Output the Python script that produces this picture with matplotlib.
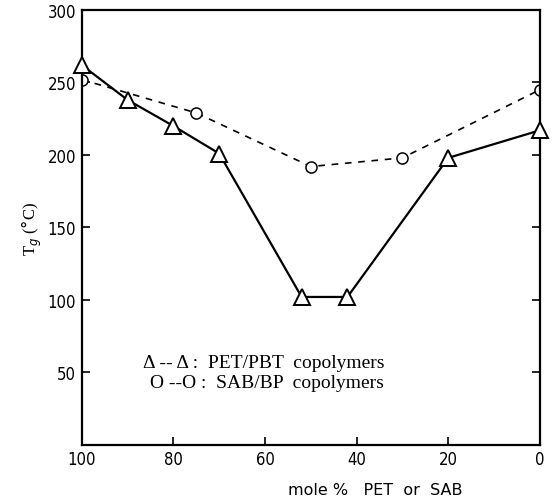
import matplotlib.pyplot as plt

# PET/PBT copolymers (triangles)
x_pet = [100, 90, 80, 70, 52, 42, 20, 0]
y_pet = [262, 238, 220, 201, 102, 102, 198, 217]

# SAB/BP copolymers (circles)
x_sab = [100, 75, 50, 30, 0]
y_sab = [252, 229, 192, 198, 245]

yticks = [50, 100, 150, 200, 250, 300]
xticks = [100, 80, 60, 40, 20, 0]

fig = plt.figure(figsize=(5.56, 5.02), dpi=100)
ax = fig.add_axes([0.147, 0.112, 0.824, 0.866])

ax.plot(x_pet, y_pet, '-', color='black', lw=1.6, marker='^', ms=11,
        mfc='white', mec='black', mew=1.4, zorder=3, clip_on=False)
ax.plot(x_sab, y_sab, '--', color='black', lw=1.2, dashes=(4, 4), marker='o', ms=8,
        mfc='white', mec='black', mew=1.1, zorder=2)

ax.set_xlim(100, 0)
ax.set_ylim(0, 300)
ax.set_xticks(xticks)
ax.set_yticks(yticks)
ax.tick_params(direction='in', length=6, width=1.2, labelsize=12, pad=4)
ax.tick_params(axis='y', right=True)
for lab in ax.get_xticklabels() + ax.get_yticklabels():
    lab.set_family('DejaVu Sans')
    lab.set_stretch('condensed')
for s in ax.spines.values():
    s.set_linewidth(1.6)

ax.set_ylabel(r'T$_g$ ($\degree$C)', fontsize=12, family='Liberation Serif', labelpad=3)
fig.text(0.675, 0.008, 'mole %   PET  or  SAB', fontsize=11.5, ha='center', va='bottom',
         family='DejaVu Sans')

ax.text(0.133, 0.19, u'\u0394 -- \u0394 :  PET/PBT  copolymers', transform=ax.transAxes,
        fontsize=14, family='Liberation Serif', va='center')
ax.text(0.148, 0.143, u'O --O :  SAB/BP  copolymers', transform=ax.transAxes,
        fontsize=14, family='Liberation Serif', va='center')

fig.savefig('out.png', dpi=100)
